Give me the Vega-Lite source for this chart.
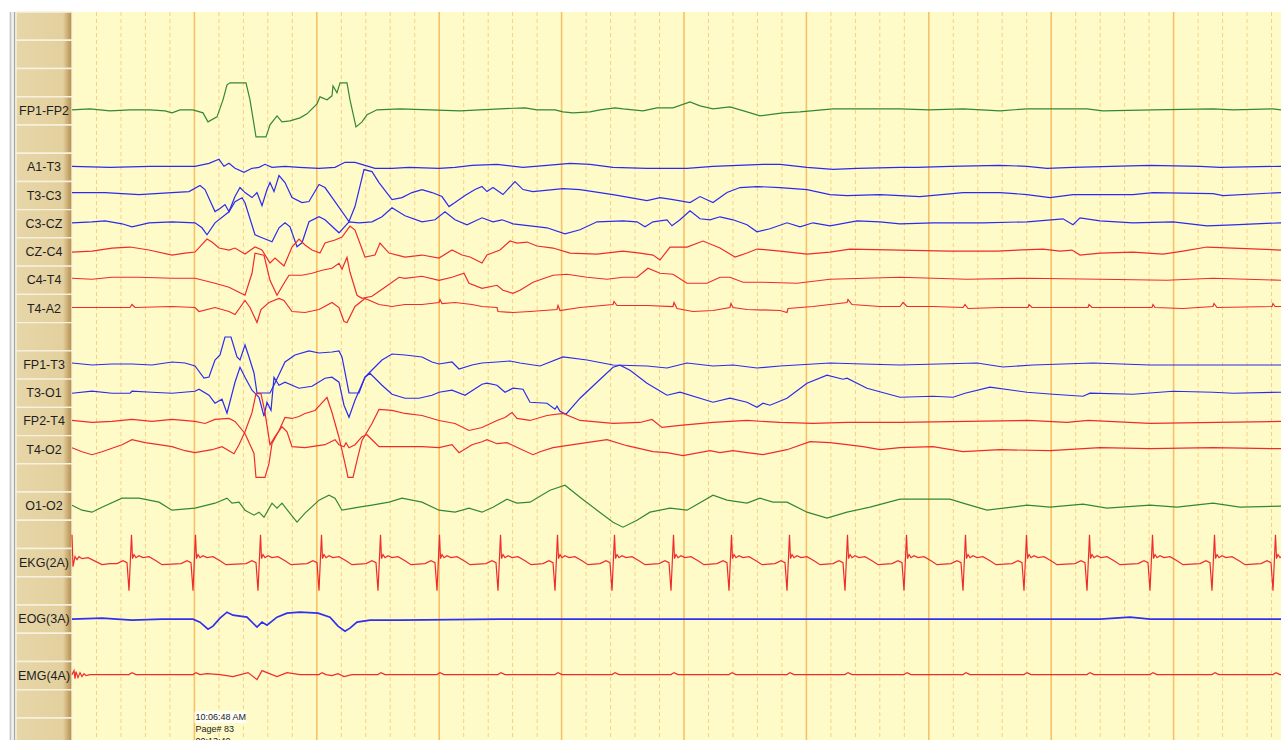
{
"$schema":"https://vega.github.io/schema/vega-lite/v6.json",
"width":1281,"height":740,
"autosize":{"type":"fit","contains":"padding"},
"padding":0,
"background":"#ffffff",
"config":{"view":{"stroke":null}},
"datasets":{
"rows":[{"slot":0,"lab":""},{"slot":1,"lab":""},{"slot":2,"lab":""},{"slot":3,"lab":"FP1-FP2"},{"slot":4,"lab":""},{"slot":5,"lab":"A1-T3"},{"slot":6,"lab":"T3-C3"},{"slot":7,"lab":"C3-CZ"},{"slot":8,"lab":"CZ-C4"},{"slot":9,"lab":"C4-T4"},{"slot":10,"lab":"T4-A2"},{"slot":11,"lab":""},{"slot":12,"lab":"FP1-T3"},{"slot":13,"lab":"T3-O1"},{"slot":14,"lab":"FP2-T4"},{"slot":15,"lab":"T4-O2"},{"slot":16,"lab":""},{"slot":17,"lab":"O1-O2"},{"slot":18,"lab":""},{"slot":19,"lab":"EKG(2A)"},{"slot":20,"lab":""},{"slot":21,"lab":"EOG(3A)"},{"slot":22,"lab":""},{"slot":23,"lab":"EMG(4A)"},{"slot":24,"lab":""},{"slot":25,"lab":""}],
"grid":[{"t":24.5,"k":"m"},{"t":49.0,"k":"m"},{"t":73.4,"k":"m"},{"t":97.9,"k":"m"},{"t":146.9,"k":"m"},{"t":171.4,"k":"m"},{"t":195.8,"k":"m"},{"t":220.3,"k":"m"},{"t":269.3,"k":"m"},{"t":293.8,"k":"m"},{"t":318.2,"k":"m"},{"t":342.7,"k":"m"},{"t":391.7,"k":"m"},{"t":416.2,"k":"m"},{"t":440.6,"k":"m"},{"t":465.1,"k":"m"},{"t":514.1,"k":"m"},{"t":538.6,"k":"m"},{"t":563.0,"k":"m"},{"t":587.5,"k":"m"},{"t":636.5,"k":"m"},{"t":661.0,"k":"m"},{"t":685.4,"k":"m"},{"t":709.9,"k":"m"},{"t":758.9,"k":"m"},{"t":783.4,"k":"m"},{"t":807.8,"k":"m"},{"t":832.3,"k":"m"},{"t":881.3,"k":"m"},{"t":905.8,"k":"m"},{"t":930.2,"k":"m"},{"t":954.7,"k":"m"},{"t":1003.7,"k":"m"},{"t":1028.2,"k":"m"},{"t":1052.6,"k":"m"},{"t":1077.1,"k":"m"},{"t":1126.1,"k":"m"},{"t":1150.6,"k":"m"},{"t":1175.0,"k":"m"},{"t":1199.5,"k":"m"},
{"t":122.4,"k":"M"},{"t":244.8,"k":"M"},{"t":367.2,"k":"M"},{"t":489.6,"k":"M"},{"t":612.0,"k":"M"},{"t":734.4,"k":"M"},{"t":856.8,"k":"M"},{"t":979.2,"k":"M"},{"t":1101.6,"k":"M"}],
"pts":[
{"c":"FP1-FP2","n":0,"v":1},{"c":"FP1-FP2","n":18,"v":2},{"c":"FP1-FP2","n":38,"v":0},{"c":"FP1-FP2","n":58,"v":1},{"c":"FP1-FP2","n":78,"v":1},{"c":"FP1-FP2","n":93,"v":0},{"c":"FP1-FP2","n":100,"v":-2},{"c":"FP1-FP2","n":108,"v":1},{"c":"FP1-FP2","n":121,"v":1},{"c":"FP1-FP2","n":131,"v":-2},{"c":"FP1-FP2","n":136,"v":-11},{"c":"FP1-FP2","n":145,"v":-6},{"c":"FP1-FP2","n":151,"v":11},{"c":"FP1-FP2","n":155,"v":26},{"c":"FP1-FP2","n":158,"v":28},{"c":"FP1-FP2","n":174,"v":28},{"c":"FP1-FP2","n":178,"v":11},{"c":"FP1-FP2","n":184,"v":-26},{"c":"FP1-FP2","n":194,"v":-26},{"c":"FP1-FP2","n":198,"v":-14},{"c":"FP1-FP2","n":205,"v":-5},{"c":"FP1-FP2","n":210,"v":-11},{"c":"FP1-FP2","n":218,"v":-10},{"c":"FP1-FP2","n":228,"v":-7},{"c":"FP1-FP2","n":235,"v":-3},{"c":"FP1-FP2","n":245,"v":7},{"c":"FP1-FP2","n":248,"v":14},{"c":"FP1-FP2","n":255,"v":11},{"c":"FP1-FP2","n":260,"v":15},{"c":"FP1-FP2","n":261,"v":25},{"c":"FP1-FP2","n":265,"v":18},{"c":"FP1-FP2","n":268,"v":28},{"c":"FP1-FP2","n":275,"v":28},{"c":"FP1-FP2","n":278,"v":11},{"c":"FP1-FP2","n":284,"v":-16},{"c":"FP1-FP2","n":290,"v":-11},{"c":"FP1-FP2","n":295,"v":-4},{"c":"FP1-FP2","n":305,"v":1},{"c":"FP1-FP2","n":328,"v":2},{"c":"FP1-FP2","n":358,"v":1},{"c":"FP1-FP2","n":388,"v":0},{"c":"FP1-FP2","n":428,"v":2},{"c":"FP1-FP2","n":453,"v":3},{"c":"FP1-FP2","n":465,"v":1},{"c":"FP1-FP2","n":483,"v":1},{"c":"FP1-FP2","n":491,"v":-1},{"c":"FP1-FP2","n":501,"v":-2},{"c":"FP1-FP2","n":518,"v":-1},{"c":"FP1-FP2","n":528,"v":1},{"c":"FP1-FP2","n":543,"v":3},{"c":"FP1-FP2","n":551,"v":2},{"c":"FP1-FP2","n":571,"v":0},{"c":"FP1-FP2","n":585,"v":3},{"c":"FP1-FP2","n":601,"v":3},{"c":"FP1-FP2","n":618,"v":9},{"c":"FP1-FP2","n":628,"v":5},{"c":"FP1-FP2","n":641,"v":2},{"c":"FP1-FP2","n":658,"v":4},{"c":"FP1-FP2","n":675,"v":-1},{"c":"FP1-FP2","n":688,"v":-5},{"c":"FP1-FP2","n":711,"v":-2},{"c":"FP1-FP2","n":728,"v":-1},{"c":"FP1-FP2","n":761,"v":2},{"c":"FP1-FP2","n":795,"v":2},{"c":"FP1-FP2","n":828,"v":2},{"c":"FP1-FP2","n":857,"v":1},{"c":"FP1-FP2","n":891,"v":2},{"c":"FP1-FP2","n":928,"v":0},{"c":"FP1-FP2","n":955,"v":2},{"c":"FP1-FP2","n":1015,"v":2},{"c":"FP1-FP2","n":1031,"v":0},{"c":"FP1-FP2","n":1081,"v":1},{"c":"FP1-FP2","n":1141,"v":2},{"c":"FP1-FP2","n":1161,"v":1},{"c":"FP1-FP2","n":1201,"v":2},{"c":"FP1-FP2","n":1209,"v":1},
{"c":"A1-T3","n":0,"v":1},{"c":"A1-T3","n":38,"v":0},{"c":"A1-T3","n":78,"v":1},{"c":"A1-T3","n":123,"v":1},{"c":"A1-T3","n":137,"v":4},{"c":"A1-T3","n":147,"v":8},{"c":"A1-T3","n":152,"v":1},{"c":"A1-T3","n":157,"v":4},{"c":"A1-T3","n":163,"v":-1},{"c":"A1-T3","n":172,"v":-5},{"c":"A1-T3","n":180,"v":-1},{"c":"A1-T3","n":187,"v":0},{"c":"A1-T3","n":193,"v":3},{"c":"A1-T3","n":200,"v":0},{"c":"A1-T3","n":213,"v":1},{"c":"A1-T3","n":227,"v":0},{"c":"A1-T3","n":247,"v":-1},{"c":"A1-T3","n":263,"v":0},{"c":"A1-T3","n":273,"v":5},{"c":"A1-T3","n":283,"v":5},{"c":"A1-T3","n":293,"v":2},{"c":"A1-T3","n":303,"v":-1},{"c":"A1-T3","n":320,"v":-1},{"c":"A1-T3","n":337,"v":0},{"c":"A1-T3","n":367,"v":-1},{"c":"A1-T3","n":383,"v":0},{"c":"A1-T3","n":400,"v":2},{"c":"A1-T3","n":425,"v":3},{"c":"A1-T3","n":451,"v":0},{"c":"A1-T3","n":475,"v":2},{"c":"A1-T3","n":498,"v":4},{"c":"A1-T3","n":518,"v":3},{"c":"A1-T3","n":541,"v":0},{"c":"A1-T3","n":575,"v":-1},{"c":"A1-T3","n":615,"v":-1},{"c":"A1-T3","n":641,"v":1},{"c":"A1-T3","n":691,"v":3},{"c":"A1-T3","n":708,"v":3},{"c":"A1-T3","n":735,"v":0},{"c":"A1-T3","n":761,"v":-2},{"c":"A1-T3","n":785,"v":-1},{"c":"A1-T3","n":828,"v":0},{"c":"A1-T3","n":845,"v":0},{"c":"A1-T3","n":878,"v":1},{"c":"A1-T3","n":928,"v":2},{"c":"A1-T3","n":955,"v":1},{"c":"A1-T3","n":975,"v":-1},{"c":"A1-T3","n":1001,"v":0},{"c":"A1-T3","n":1078,"v":2},{"c":"A1-T3","n":1128,"v":1},{"c":"A1-T3","n":1148,"v":0},{"c":"A1-T3","n":1209,"v":1},
{"c":"T3-C3","n":0,"v":3},{"c":"T3-C3","n":33,"v":3},{"c":"T3-C3","n":50,"v":2},{"c":"T3-C3","n":67,"v":1},{"c":"T3-C3","n":100,"v":3},{"c":"T3-C3","n":117,"v":4},{"c":"T3-C3","n":128,"v":10},{"c":"T3-C3","n":133,"v":6},{"c":"T3-C3","n":143,"v":-16},{"c":"T3-C3","n":148,"v":-13},{"c":"T3-C3","n":153,"v":-9},{"c":"T3-C3","n":157,"v":-16},{"c":"T3-C3","n":163,"v":-1},{"c":"T3-C3","n":168,"v":8},{"c":"T3-C3","n":173,"v":3},{"c":"T3-C3","n":180,"v":-2},{"c":"T3-C3","n":185,"v":3},{"c":"T3-C3","n":190,"v":-10},{"c":"T3-C3","n":195,"v":6},{"c":"T3-C3","n":198,"v":13},{"c":"T3-C3","n":202,"v":4},{"c":"T3-C3","n":207,"v":20},{"c":"T3-C3","n":213,"v":13},{"c":"T3-C3","n":220,"v":-2},{"c":"T3-C3","n":230,"v":-7},{"c":"T3-C3","n":237,"v":-6},{"c":"T3-C3","n":247,"v":11},{"c":"T3-C3","n":253,"v":8},{"c":"T3-C3","n":263,"v":-6},{"c":"T3-C3","n":277,"v":-26},{"c":"T3-C3","n":283,"v":-11},{"c":"T3-C3","n":292,"v":26},{"c":"T3-C3","n":300,"v":24},{"c":"T3-C3","n":307,"v":13},{"c":"T3-C3","n":320,"v":-4},{"c":"T3-C3","n":330,"v":-2},{"c":"T3-C3","n":340,"v":3},{"c":"T3-C3","n":350,"v":6},{"c":"T3-C3","n":360,"v":3},{"c":"T3-C3","n":370,"v":-1},{"c":"T3-C3","n":377,"v":-11},{"c":"T3-C3","n":383,"v":-7},{"c":"T3-C3","n":393,"v":0},{"c":"T3-C3","n":403,"v":6},{"c":"T3-C3","n":410,"v":9},{"c":"T3-C3","n":415,"v":4},{"c":"T3-C3","n":421,"v":8},{"c":"T3-C3","n":431,"v":1},{"c":"T3-C3","n":443,"v":14},{"c":"T3-C3","n":451,"v":6},{"c":"T3-C3","n":461,"v":4},{"c":"T3-C3","n":491,"v":7},{"c":"T3-C3","n":508,"v":6},{"c":"T3-C3","n":541,"v":1},{"c":"T3-C3","n":558,"v":-2},{"c":"T3-C3","n":575,"v":-5},{"c":"T3-C3","n":588,"v":-2},{"c":"T3-C3","n":601,"v":-4},{"c":"T3-C3","n":618,"v":-7},{"c":"T3-C3","n":628,"v":-1},{"c":"T3-C3","n":641,"v":-7},{"c":"T3-C3","n":655,"v":3},{"c":"T3-C3","n":668,"v":8},{"c":"T3-C3","n":685,"v":9},{"c":"T3-C3","n":708,"v":8},{"c":"T3-C3","n":735,"v":6},{"c":"T3-C3","n":758,"v":1},{"c":"T3-C3","n":775,"v":0},{"c":"T3-C3","n":808,"v":1},{"c":"T3-C3","n":848,"v":-1},{"c":"T3-C3","n":891,"v":3},{"c":"T3-C3","n":928,"v":3},{"c":"T3-C3","n":955,"v":1},{"c":"T3-C3","n":978,"v":-2},{"c":"T3-C3","n":1001,"v":1},{"c":"T3-C3","n":1061,"v":1},{"c":"T3-C3","n":1081,"v":3},{"c":"T3-C3","n":1141,"v":2},{"c":"T3-C3","n":1151,"v":0},{"c":"T3-C3","n":1209,"v":3},
{"c":"C3-CZ","n":0,"v":1},{"c":"C3-CZ","n":20,"v":2},{"c":"C3-CZ","n":33,"v":3},{"c":"C3-CZ","n":50,"v":0},{"c":"C3-CZ","n":60,"v":-3},{"c":"C3-CZ","n":77,"v":1},{"c":"C3-CZ","n":100,"v":2},{"c":"C3-CZ","n":123,"v":1},{"c":"C3-CZ","n":130,"v":-4},{"c":"C3-CZ","n":135,"v":-11},{"c":"C3-CZ","n":143,"v":1},{"c":"C3-CZ","n":157,"v":12},{"c":"C3-CZ","n":163,"v":22},{"c":"C3-CZ","n":170,"v":26},{"c":"C3-CZ","n":173,"v":21},{"c":"C3-CZ","n":183,"v":-11},{"c":"C3-CZ","n":190,"v":-14},{"c":"C3-CZ","n":200,"v":-18},{"c":"C3-CZ","n":207,"v":-4},{"c":"C3-CZ","n":213,"v":1},{"c":"C3-CZ","n":218,"v":-3},{"c":"C3-CZ","n":225,"v":-23},{"c":"C3-CZ","n":230,"v":-19},{"c":"C3-CZ","n":237,"v":2},{"c":"C3-CZ","n":247,"v":7},{"c":"C3-CZ","n":253,"v":4},{"c":"C3-CZ","n":267,"v":-9},{"c":"C3-CZ","n":277,"v":2},{"c":"C3-CZ","n":287,"v":1},{"c":"C3-CZ","n":300,"v":2},{"c":"C3-CZ","n":310,"v":7},{"c":"C3-CZ","n":320,"v":16},{"c":"C3-CZ","n":333,"v":8},{"c":"C3-CZ","n":350,"v":2},{"c":"C3-CZ","n":363,"v":4},{"c":"C3-CZ","n":373,"v":12},{"c":"C3-CZ","n":383,"v":4},{"c":"C3-CZ","n":395,"v":-1},{"c":"C3-CZ","n":410,"v":6},{"c":"C3-CZ","n":421,"v":2},{"c":"C3-CZ","n":430,"v":4},{"c":"C3-CZ","n":441,"v":0},{"c":"C3-CZ","n":458,"v":-2},{"c":"C3-CZ","n":475,"v":-4},{"c":"C3-CZ","n":493,"v":-10},{"c":"C3-CZ","n":508,"v":-6},{"c":"C3-CZ","n":525,"v":2},{"c":"C3-CZ","n":551,"v":3},{"c":"C3-CZ","n":565,"v":2},{"c":"C3-CZ","n":573,"v":-3},{"c":"C3-CZ","n":581,"v":2},{"c":"C3-CZ","n":595,"v":4},{"c":"C3-CZ","n":600,"v":-2},{"c":"C3-CZ","n":608,"v":4},{"c":"C3-CZ","n":618,"v":13},{"c":"C3-CZ","n":628,"v":5},{"c":"C3-CZ","n":638,"v":4},{"c":"C3-CZ","n":648,"v":7},{"c":"C3-CZ","n":661,"v":4},{"c":"C3-CZ","n":675,"v":-1},{"c":"C3-CZ","n":685,"v":-8},{"c":"C3-CZ","n":698,"v":-5},{"c":"C3-CZ","n":715,"v":1},{"c":"C3-CZ","n":728,"v":-3},{"c":"C3-CZ","n":741,"v":1},{"c":"C3-CZ","n":758,"v":-2},{"c":"C3-CZ","n":785,"v":3},{"c":"C3-CZ","n":808,"v":2},{"c":"C3-CZ","n":828,"v":0},{"c":"C3-CZ","n":861,"v":1},{"c":"C3-CZ","n":911,"v":1},{"c":"C3-CZ","n":955,"v":2},{"c":"C3-CZ","n":991,"v":5},{"c":"C3-CZ","n":1001,"v":-1},{"c":"C3-CZ","n":1008,"v":6},{"c":"C3-CZ","n":1028,"v":3},{"c":"C3-CZ","n":1061,"v":1},{"c":"C3-CZ","n":1101,"v":2},{"c":"C3-CZ","n":1135,"v":-2},{"c":"C3-CZ","n":1161,"v":-1},{"c":"C3-CZ","n":1209,"v":1},
{"c":"CZ-C4","n":0,"v":0},{"c":"CZ-C4","n":20,"v":1},{"c":"CZ-C4","n":40,"v":4},{"c":"CZ-C4","n":58,"v":5},{"c":"CZ-C4","n":77,"v":2},{"c":"CZ-C4","n":100,"v":-3},{"c":"CZ-C4","n":113,"v":-1},{"c":"CZ-C4","n":123,"v":0},{"c":"CZ-C4","n":135,"v":13},{"c":"CZ-C4","n":140,"v":10},{"c":"CZ-C4","n":147,"v":4},{"c":"CZ-C4","n":157,"v":2},{"c":"CZ-C4","n":163,"v":4},{"c":"CZ-C4","n":173,"v":-2},{"c":"CZ-C4","n":183,"v":5},{"c":"CZ-C4","n":190,"v":2},{"c":"CZ-C4","n":198,"v":-11},{"c":"CZ-C4","n":203,"v":-6},{"c":"CZ-C4","n":212,"v":-14},{"c":"CZ-C4","n":220,"v":5},{"c":"CZ-C4","n":227,"v":13},{"c":"CZ-C4","n":233,"v":7},{"c":"CZ-C4","n":240,"v":2},{"c":"CZ-C4","n":248,"v":-1},{"c":"CZ-C4","n":253,"v":9},{"c":"CZ-C4","n":263,"v":12},{"c":"CZ-C4","n":270,"v":15},{"c":"CZ-C4","n":278,"v":26},{"c":"CZ-C4","n":283,"v":22},{"c":"CZ-C4","n":293,"v":-5},{"c":"CZ-C4","n":303,"v":-3},{"c":"CZ-C4","n":308,"v":9},{"c":"CZ-C4","n":317,"v":-1},{"c":"CZ-C4","n":333,"v":-5},{"c":"CZ-C4","n":350,"v":-3},{"c":"CZ-C4","n":367,"v":-6},{"c":"CZ-C4","n":380,"v":2},{"c":"CZ-C4","n":390,"v":-3},{"c":"CZ-C4","n":398,"v":-5},{"c":"CZ-C4","n":410,"v":-11},{"c":"CZ-C4","n":415,"v":-3},{"c":"CZ-C4","n":428,"v":2},{"c":"CZ-C4","n":438,"v":11},{"c":"CZ-C4","n":445,"v":9},{"c":"CZ-C4","n":455,"v":10},{"c":"CZ-C4","n":465,"v":6},{"c":"CZ-C4","n":481,"v":4},{"c":"CZ-C4","n":498,"v":-1},{"c":"CZ-C4","n":525,"v":-2},{"c":"CZ-C4","n":551,"v":1},{"c":"CZ-C4","n":568,"v":-1},{"c":"CZ-C4","n":581,"v":-3},{"c":"CZ-C4","n":588,"v":-8},{"c":"CZ-C4","n":598,"v":5},{"c":"CZ-C4","n":615,"v":5},{"c":"CZ-C4","n":631,"v":11},{"c":"CZ-C4","n":648,"v":4},{"c":"CZ-C4","n":663,"v":-5},{"c":"CZ-C4","n":675,"v":-1},{"c":"CZ-C4","n":685,"v":3},{"c":"CZ-C4","n":708,"v":1},{"c":"CZ-C4","n":735,"v":-2},{"c":"CZ-C4","n":758,"v":0},{"c":"CZ-C4","n":778,"v":3},{"c":"CZ-C4","n":828,"v":2},{"c":"CZ-C4","n":878,"v":1},{"c":"CZ-C4","n":925,"v":1},{"c":"CZ-C4","n":971,"v":3},{"c":"CZ-C4","n":988,"v":1},{"c":"CZ-C4","n":1000,"v":2},{"c":"CZ-C4","n":1008,"v":-3},{"c":"CZ-C4","n":1028,"v":-1},{"c":"CZ-C4","n":1061,"v":0},{"c":"CZ-C4","n":1091,"v":-2},{"c":"CZ-C4","n":1111,"v":1},{"c":"CZ-C4","n":1135,"v":5},{"c":"CZ-C4","n":1161,"v":4},{"c":"CZ-C4","n":1209,"v":2},
{"c":"C4-T4","n":0,"v":2},{"c":"C4-T4","n":20,"v":1},{"c":"C4-T4","n":40,"v":3},{"c":"C4-T4","n":67,"v":3},{"c":"C4-T4","n":100,"v":2},{"c":"C4-T4","n":123,"v":2},{"c":"C4-T4","n":143,"v":-3},{"c":"C4-T4","n":157,"v":-7},{"c":"C4-T4","n":167,"v":-12},{"c":"C4-T4","n":173,"v":-15},{"c":"C4-T4","n":180,"v":7},{"c":"C4-T4","n":183,"v":27},{"c":"C4-T4","n":192,"v":25},{"c":"C4-T4","n":198,"v":0},{"c":"C4-T4","n":205,"v":-15},{"c":"C4-T4","n":212,"v":-3},{"c":"C4-T4","n":217,"v":5},{"c":"C4-T4","n":230,"v":5},{"c":"C4-T4","n":240,"v":7},{"c":"C4-T4","n":250,"v":10},{"c":"C4-T4","n":260,"v":12},{"c":"C4-T4","n":267,"v":17},{"c":"C4-T4","n":270,"v":11},{"c":"C4-T4","n":275,"v":23},{"c":"C4-T4","n":278,"v":8},{"c":"C4-T4","n":285,"v":-15},{"c":"C4-T4","n":290,"v":-18},{"c":"C4-T4","n":300,"v":-16},{"c":"C4-T4","n":313,"v":-7},{"c":"C4-T4","n":327,"v":3},{"c":"C4-T4","n":333,"v":2},{"c":"C4-T4","n":350,"v":4},{"c":"C4-T4","n":367,"v":0},{"c":"C4-T4","n":380,"v":3},{"c":"C4-T4","n":392,"v":7},{"c":"C4-T4","n":397,"v":-3},{"c":"C4-T4","n":410,"v":-8},{"c":"C4-T4","n":425,"v":-5},{"c":"C4-T4","n":431,"v":-10},{"c":"C4-T4","n":441,"v":-13},{"c":"C4-T4","n":448,"v":-10},{"c":"C4-T4","n":461,"v":-2},{"c":"C4-T4","n":481,"v":5},{"c":"C4-T4","n":495,"v":6},{"c":"C4-T4","n":515,"v":3},{"c":"C4-T4","n":535,"v":1},{"c":"C4-T4","n":551,"v":3},{"c":"C4-T4","n":565,"v":3},{"c":"C4-T4","n":576,"v":12},{"c":"C4-T4","n":588,"v":7},{"c":"C4-T4","n":601,"v":6},{"c":"C4-T4","n":615,"v":-3},{"c":"C4-T4","n":635,"v":-3},{"c":"C4-T4","n":648,"v":3},{"c":"C4-T4","n":658,"v":3},{"c":"C4-T4","n":671,"v":-2},{"c":"C4-T4","n":691,"v":-2},{"c":"C4-T4","n":725,"v":-3},{"c":"C4-T4","n":758,"v":1},{"c":"C4-T4","n":828,"v":3},{"c":"C4-T4","n":895,"v":1},{"c":"C4-T4","n":955,"v":2},{"c":"C4-T4","n":1028,"v":1},{"c":"C4-T4","n":1095,"v":0},{"c":"C4-T4","n":1141,"v":2},{"c":"C4-T4","n":1209,"v":0},
{"c":"T4-A2","n":0,"v":1},{"c":"T4-A2","n":33,"v":1},{"c":"T4-A2","n":58,"v":1},{"c":"T4-A2","n":60,"v":4},{"c":"T4-A2","n":63,"v":1},{"c":"T4-A2","n":100,"v":2},{"c":"T4-A2","n":123,"v":1},{"c":"T4-A2","n":127,"v":-3},{"c":"T4-A2","n":143,"v":1},{"c":"T4-A2","n":157,"v":-3},{"c":"T4-A2","n":163,"v":-6},{"c":"T4-A2","n":173,"v":8},{"c":"T4-A2","n":178,"v":1},{"c":"T4-A2","n":185,"v":-14},{"c":"T4-A2","n":189,"v":-1},{"c":"T4-A2","n":197,"v":6},{"c":"T4-A2","n":207,"v":10},{"c":"T4-A2","n":212,"v":8},{"c":"T4-A2","n":220,"v":-3},{"c":"T4-A2","n":233,"v":-4},{"c":"T4-A2","n":247,"v":-1},{"c":"T4-A2","n":260,"v":6},{"c":"T4-A2","n":267,"v":1},{"c":"T4-A2","n":272,"v":-13},{"c":"T4-A2","n":275,"v":-14},{"c":"T4-A2","n":283,"v":2},{"c":"T4-A2","n":293,"v":10},{"c":"T4-A2","n":307,"v":4},{"c":"T4-A2","n":320,"v":2},{"c":"T4-A2","n":333,"v":4},{"c":"T4-A2","n":350,"v":4},{"c":"T4-A2","n":367,"v":6},{"c":"T4-A2","n":368,"v":9},{"c":"T4-A2","n":370,"v":5},{"c":"T4-A2","n":383,"v":6},{"c":"T4-A2","n":400,"v":4},{"c":"T4-A2","n":410,"v":2},{"c":"T4-A2","n":425,"v":1},{"c":"T4-A2","n":426,"v":-3},{"c":"T4-A2","n":441,"v":-4},{"c":"T4-A2","n":458,"v":-3},{"c":"T4-A2","n":485,"v":-1},{"c":"T4-A2","n":486,"v":3},{"c":"T4-A2","n":488,"v":-2},{"c":"T4-A2","n":508,"v":1},{"c":"T4-A2","n":541,"v":4},{"c":"T4-A2","n":542,"v":7},{"c":"T4-A2","n":545,"v":3},{"c":"T4-A2","n":575,"v":3},{"c":"T4-A2","n":601,"v":2},{"c":"T4-A2","n":602,"v":6},{"c":"T4-A2","n":605,"v":0},{"c":"T4-A2","n":621,"v":-3},{"c":"T4-A2","n":641,"v":-2},{"c":"T4-A2","n":658,"v":1},{"c":"T4-A2","n":659,"v":5},{"c":"T4-A2","n":661,"v":1},{"c":"T4-A2","n":675,"v":-1},{"c":"T4-A2","n":708,"v":-2},{"c":"T4-A2","n":715,"v":-4},{"c":"T4-A2","n":716,"v":0},{"c":"T4-A2","n":741,"v":2},{"c":"T4-A2","n":775,"v":6},{"c":"T4-A2","n":776,"v":9},{"c":"T4-A2","n":780,"v":4},{"c":"T4-A2","n":808,"v":2},{"c":"T4-A2","n":828,"v":2},{"c":"T4-A2","n":831,"v":6},{"c":"T4-A2","n":835,"v":2},{"c":"T4-A2","n":861,"v":2},{"c":"T4-A2","n":891,"v":1},{"c":"T4-A2","n":893,"v":4},{"c":"T4-A2","n":896,"v":0},{"c":"T4-A2","n":928,"v":1},{"c":"T4-A2","n":956,"v":1},{"c":"T4-A2","n":957,"v":4},{"c":"T4-A2","n":960,"v":1},{"c":"T4-A2","n":1016,"v":1},{"c":"T4-A2","n":1017,"v":4},{"c":"T4-A2","n":1020,"v":1},{"c":"T4-A2","n":1080,"v":1},{"c":"T4-A2","n":1081,"v":4},{"c":"T4-A2","n":1083,"v":1},{"c":"T4-A2","n":1111,"v":0},{"c":"T4-A2","n":1141,"v":2},{"c":"T4-A2","n":1142,"v":5},{"c":"T4-A2","n":1145,"v":1},{"c":"T4-A2","n":1200,"v":2},{"c":"T4-A2","n":1201,"v":5},{"c":"T4-A2","n":1203,"v":2},{"c":"T4-A2","n":1209,"v":2},
{"c":"FP1-T3","n":0,"v":2},{"c":"FP1-T3","n":20,"v":0},{"c":"FP1-T3","n":40,"v":1},{"c":"FP1-T3","n":60,"v":1},{"c":"FP1-T3","n":80,"v":0},{"c":"FP1-T3","n":100,"v":3},{"c":"FP1-T3","n":113,"v":2},{"c":"FP1-T3","n":123,"v":-1},{"c":"FP1-T3","n":132,"v":-13},{"c":"FP1-T3","n":137,"v":-12},{"c":"FP1-T3","n":143,"v":5},{"c":"FP1-T3","n":148,"v":10},{"c":"FP1-T3","n":153,"v":28},{"c":"FP1-T3","n":159,"v":28},{"c":"FP1-T3","n":165,"v":8},{"c":"FP1-T3","n":168,"v":5},{"c":"FP1-T3","n":173,"v":20},{"c":"FP1-T3","n":177,"v":8},{"c":"FP1-T3","n":182,"v":-8},{"c":"FP1-T3","n":185,"v":-28},{"c":"FP1-T3","n":198,"v":-28},{"c":"FP1-T3","n":203,"v":-18},{"c":"FP1-T3","n":213,"v":3},{"c":"FP1-T3","n":223,"v":10},{"c":"FP1-T3","n":237,"v":14},{"c":"FP1-T3","n":247,"v":12},{"c":"FP1-T3","n":260,"v":13},{"c":"FP1-T3","n":267,"v":14},{"c":"FP1-T3","n":270,"v":8},{"c":"FP1-T3","n":277,"v":-28},{"c":"FP1-T3","n":287,"v":-28},{"c":"FP1-T3","n":293,"v":-12},{"c":"FP1-T3","n":300,"v":-5},{"c":"FP1-T3","n":310,"v":5},{"c":"FP1-T3","n":320,"v":11},{"c":"FP1-T3","n":333,"v":10},{"c":"FP1-T3","n":350,"v":8},{"c":"FP1-T3","n":360,"v":3},{"c":"FP1-T3","n":367,"v":1},{"c":"FP1-T3","n":380,"v":3},{"c":"FP1-T3","n":387,"v":-4},{"c":"FP1-T3","n":400,"v":0},{"c":"FP1-T3","n":410,"v":2},{"c":"FP1-T3","n":425,"v":3},{"c":"FP1-T3","n":438,"v":4},{"c":"FP1-T3","n":448,"v":2},{"c":"FP1-T3","n":468,"v":-1},{"c":"FP1-T3","n":491,"v":8},{"c":"FP1-T3","n":515,"v":5},{"c":"FP1-T3","n":541,"v":0},{"c":"FP1-T3","n":575,"v":-1},{"c":"FP1-T3","n":595,"v":-3},{"c":"FP1-T3","n":615,"v":2},{"c":"FP1-T3","n":641,"v":-1},{"c":"FP1-T3","n":661,"v":0},{"c":"FP1-T3","n":685,"v":-3},{"c":"FP1-T3","n":708,"v":-1},{"c":"FP1-T3","n":758,"v":2},{"c":"FP1-T3","n":791,"v":1},{"c":"FP1-T3","n":828,"v":0},{"c":"FP1-T3","n":905,"v":2},{"c":"FP1-T3","n":931,"v":-2},{"c":"FP1-T3","n":961,"v":0},{"c":"FP1-T3","n":1021,"v":2},{"c":"FP1-T3","n":1078,"v":0},{"c":"FP1-T3","n":1141,"v":0},{"c":"FP1-T3","n":1209,"v":0},
{"c":"T3-O1","n":0,"v":0},{"c":"T3-O1","n":20,"v":2},{"c":"T3-O1","n":40,"v":0},{"c":"T3-O1","n":58,"v":0},{"c":"T3-O1","n":60,"v":2},{"c":"T3-O1","n":80,"v":1},{"c":"T3-O1","n":100,"v":0},{"c":"T3-O1","n":123,"v":2},{"c":"T3-O1","n":127,"v":4},{"c":"T3-O1","n":137,"v":-2},{"c":"T3-O1","n":143,"v":-10},{"c":"T3-O1","n":150,"v":-6},{"c":"T3-O1","n":155,"v":-20},{"c":"T3-O1","n":163,"v":11},{"c":"T3-O1","n":168,"v":26},{"c":"T3-O1","n":173,"v":16},{"c":"T3-O1","n":180,"v":3},{"c":"T3-O1","n":187,"v":-4},{"c":"T3-O1","n":192,"v":-23},{"c":"T3-O1","n":195,"v":-9},{"c":"T3-O1","n":199,"v":-17},{"c":"T3-O1","n":202,"v":16},{"c":"T3-O1","n":207,"v":8},{"c":"T3-O1","n":213,"v":11},{"c":"T3-O1","n":227,"v":5},{"c":"T3-O1","n":240,"v":7},{"c":"T3-O1","n":253,"v":15},{"c":"T3-O1","n":260,"v":16},{"c":"T3-O1","n":267,"v":11},{"c":"T3-O1","n":272,"v":-12},{"c":"T3-O1","n":277,"v":-24},{"c":"T3-O1","n":283,"v":-7},{"c":"T3-O1","n":293,"v":16},{"c":"T3-O1","n":298,"v":20},{"c":"T3-O1","n":310,"v":8},{"c":"T3-O1","n":320,"v":-1},{"c":"T3-O1","n":333,"v":-5},{"c":"T3-O1","n":347,"v":-5},{"c":"T3-O1","n":360,"v":-2},{"c":"T3-O1","n":367,"v":1},{"c":"T3-O1","n":380,"v":3},{"c":"T3-O1","n":393,"v":-2},{"c":"T3-O1","n":410,"v":9},{"c":"T3-O1","n":415,"v":10},{"c":"T3-O1","n":425,"v":8},{"c":"T3-O1","n":433,"v":1},{"c":"T3-O1","n":441,"v":5},{"c":"T3-O1","n":451,"v":4},{"c":"T3-O1","n":458,"v":-9},{"c":"T3-O1","n":475,"v":-10},{"c":"T3-O1","n":483,"v":-16},{"c":"T3-O1","n":485,"v":-13},{"c":"T3-O1","n":488,"v":-18},{"c":"T3-O1","n":494,"v":-21},{"c":"T3-O1","n":508,"v":-5},{"c":"T3-O1","n":525,"v":11},{"c":"T3-O1","n":541,"v":26},{"c":"T3-O1","n":548,"v":28},{"c":"T3-O1","n":558,"v":23},{"c":"T3-O1","n":575,"v":10},{"c":"T3-O1","n":595,"v":-2},{"c":"T3-O1","n":608,"v":1},{"c":"T3-O1","n":641,"v":-9},{"c":"T3-O1","n":658,"v":-5},{"c":"T3-O1","n":675,"v":-9},{"c":"T3-O1","n":685,"v":-14},{"c":"T3-O1","n":691,"v":-10},{"c":"T3-O1","n":698,"v":-12},{"c":"T3-O1","n":715,"v":-5},{"c":"T3-O1","n":735,"v":10},{"c":"T3-O1","n":755,"v":18},{"c":"T3-O1","n":771,"v":14},{"c":"T3-O1","n":775,"v":15},{"c":"T3-O1","n":795,"v":5},{"c":"T3-O1","n":828,"v":-4},{"c":"T3-O1","n":861,"v":-3},{"c":"T3-O1","n":881,"v":-4},{"c":"T3-O1","n":893,"v":0},{"c":"T3-O1","n":918,"v":6},{"c":"T3-O1","n":955,"v":1},{"c":"T3-O1","n":981,"v":-1},{"c":"T3-O1","n":1011,"v":-3},{"c":"T3-O1","n":1018,"v":0},{"c":"T3-O1","n":1061,"v":-1},{"c":"T3-O1","n":1101,"v":2},{"c":"T3-O1","n":1141,"v":1},{"c":"T3-O1","n":1161,"v":0},{"c":"T3-O1","n":1209,"v":1},
{"c":"FP2-T4","n":0,"v":1},{"c":"FP2-T4","n":20,"v":-1},{"c":"FP2-T4","n":40,"v":0},{"c":"FP2-T4","n":60,"v":2},{"c":"FP2-T4","n":80,"v":0},{"c":"FP2-T4","n":100,"v":2},{"c":"FP2-T4","n":123,"v":0},{"c":"FP2-T4","n":133,"v":-2},{"c":"FP2-T4","n":143,"v":2},{"c":"FP2-T4","n":157,"v":3},{"c":"FP2-T4","n":163,"v":0},{"c":"FP2-T4","n":173,"v":-12},{"c":"FP2-T4","n":182,"v":-32},{"c":"FP2-T4","n":184,"v":-56},{"c":"FP2-T4","n":193,"v":-56},{"c":"FP2-T4","n":197,"v":-42},{"c":"FP2-T4","n":200,"v":-22},{"c":"FP2-T4","n":207,"v":-9},{"c":"FP2-T4","n":213,"v":4},{"c":"FP2-T4","n":220,"v":3},{"c":"FP2-T4","n":227,"v":5},{"c":"FP2-T4","n":233,"v":8},{"c":"FP2-T4","n":243,"v":11},{"c":"FP2-T4","n":255,"v":24},{"c":"FP2-T4","n":260,"v":9},{"c":"FP2-T4","n":267,"v":-16},{"c":"FP2-T4","n":273,"v":-42},{"c":"FP2-T4","n":276,"v":-56},{"c":"FP2-T4","n":281,"v":-56},{"c":"FP2-T4","n":286,"v":-35},{"c":"FP2-T4","n":290,"v":-19},{"c":"FP2-T4","n":300,"v":-2},{"c":"FP2-T4","n":307,"v":12},{"c":"FP2-T4","n":320,"v":11},{"c":"FP2-T4","n":333,"v":8},{"c":"FP2-T4","n":350,"v":6},{"c":"FP2-T4","n":367,"v":1},{"c":"FP2-T4","n":383,"v":-2},{"c":"FP2-T4","n":397,"v":-9},{"c":"FP2-T4","n":410,"v":-6},{"c":"FP2-T4","n":425,"v":1},{"c":"FP2-T4","n":433,"v":4},{"c":"FP2-T4","n":440,"v":9},{"c":"FP2-T4","n":445,"v":3},{"c":"FP2-T4","n":458,"v":1},{"c":"FP2-T4","n":475,"v":6},{"c":"FP2-T4","n":491,"v":8},{"c":"FP2-T4","n":508,"v":1},{"c":"FP2-T4","n":541,"v":-2},{"c":"FP2-T4","n":568,"v":-1},{"c":"FP2-T4","n":580,"v":2},{"c":"FP2-T4","n":590,"v":-6},{"c":"FP2-T4","n":608,"v":-4},{"c":"FP2-T4","n":641,"v":-1},{"c":"FP2-T4","n":675,"v":1},{"c":"FP2-T4","n":708,"v":-1},{"c":"FP2-T4","n":741,"v":-2},{"c":"FP2-T4","n":775,"v":-1},{"c":"FP2-T4","n":828,"v":-1},{"c":"FP2-T4","n":895,"v":0},{"c":"FP2-T4","n":956,"v":1},{"c":"FP2-T4","n":995,"v":-1},{"c":"FP2-T4","n":1016,"v":1},{"c":"FP2-T4","n":1078,"v":-2},{"c":"FP2-T4","n":1145,"v":-1},{"c":"FP2-T4","n":1209,"v":0},
{"c":"T4-O2","n":0,"v":2},{"c":"T4-O2","n":10,"v":-2},{"c":"T4-O2","n":20,"v":-5},{"c":"T4-O2","n":30,"v":-2},{"c":"T4-O2","n":50,"v":5},{"c":"T4-O2","n":60,"v":10},{"c":"T4-O2","n":73,"v":7},{"c":"T4-O2","n":87,"v":5},{"c":"T4-O2","n":100,"v":3},{"c":"T4-O2","n":113,"v":-1},{"c":"T4-O2","n":123,"v":-3},{"c":"T4-O2","n":140,"v":0},{"c":"T4-O2","n":150,"v":3},{"c":"T4-O2","n":162,"v":-4},{"c":"T4-O2","n":167,"v":5},{"c":"T4-O2","n":173,"v":18},{"c":"T4-O2","n":180,"v":37},{"c":"T4-O2","n":184,"v":56},{"c":"T4-O2","n":189,"v":56},{"c":"T4-O2","n":193,"v":37},{"c":"T4-O2","n":198,"v":5},{"c":"T4-O2","n":203,"v":13},{"c":"T4-O2","n":210,"v":23},{"c":"T4-O2","n":215,"v":18},{"c":"T4-O2","n":220,"v":3},{"c":"T4-O2","n":233,"v":2},{"c":"T4-O2","n":253,"v":5},{"c":"T4-O2","n":263,"v":10},{"c":"T4-O2","n":267,"v":5},{"c":"T4-O2","n":272,"v":3},{"c":"T4-O2","n":274,"v":7},{"c":"T4-O2","n":277,"v":2},{"c":"T4-O2","n":283,"v":5},{"c":"T4-O2","n":290,"v":13},{"c":"T4-O2","n":295,"v":15},{"c":"T4-O2","n":300,"v":10},{"c":"T4-O2","n":307,"v":3},{"c":"T4-O2","n":320,"v":3},{"c":"T4-O2","n":350,"v":3},{"c":"T4-O2","n":367,"v":2},{"c":"T4-O2","n":380,"v":5},{"c":"T4-O2","n":387,"v":-3},{"c":"T4-O2","n":400,"v":5},{"c":"T4-O2","n":410,"v":8},{"c":"T4-O2","n":415,"v":10},{"c":"T4-O2","n":425,"v":6},{"c":"T4-O2","n":435,"v":7},{"c":"T4-O2","n":448,"v":1},{"c":"T4-O2","n":461,"v":-5},{"c":"T4-O2","n":468,"v":-2},{"c":"T4-O2","n":481,"v":2},{"c":"T4-O2","n":501,"v":5},{"c":"T4-O2","n":535,"v":10},{"c":"T4-O2","n":555,"v":4},{"c":"T4-O2","n":581,"v":-2},{"c":"T4-O2","n":595,"v":-3},{"c":"T4-O2","n":611,"v":-6},{"c":"T4-O2","n":638,"v":-1},{"c":"T4-O2","n":648,"v":-3},{"c":"T4-O2","n":661,"v":-1},{"c":"T4-O2","n":675,"v":-3},{"c":"T4-O2","n":691,"v":-5},{"c":"T4-O2","n":715,"v":0},{"c":"T4-O2","n":738,"v":8},{"c":"T4-O2","n":758,"v":7},{"c":"T4-O2","n":775,"v":5},{"c":"T4-O2","n":791,"v":3},{"c":"T4-O2","n":808,"v":0},{"c":"T4-O2","n":828,"v":2},{"c":"T4-O2","n":861,"v":3},{"c":"T4-O2","n":891,"v":-2},{"c":"T4-O2","n":928,"v":0},{"c":"T4-O2","n":978,"v":-1},{"c":"T4-O2","n":1028,"v":2},{"c":"T4-O2","n":1078,"v":1},{"c":"T4-O2","n":1141,"v":2},{"c":"T4-O2","n":1209,"v":1},
{"c":"O1-O2","n":0,"v":1},{"c":"O1-O2","n":10,"v":-4},{"c":"O1-O2","n":20,"v":-6},{"c":"O1-O2","n":30,"v":-1},{"c":"O1-O2","n":50,"v":8},{"c":"O1-O2","n":67,"v":8},{"c":"O1-O2","n":87,"v":4},{"c":"O1-O2","n":100,"v":-4},{"c":"O1-O2","n":123,"v":-2},{"c":"O1-O2","n":143,"v":3},{"c":"O1-O2","n":155,"v":8},{"c":"O1-O2","n":160,"v":3},{"c":"O1-O2","n":167,"v":4},{"c":"O1-O2","n":173,"v":-4},{"c":"O1-O2","n":182,"v":-9},{"c":"O1-O2","n":187,"v":-6},{"c":"O1-O2","n":192,"v":-11},{"c":"O1-O2","n":200,"v":3},{"c":"O1-O2","n":205,"v":-2},{"c":"O1-O2","n":210,"v":3},{"c":"O1-O2","n":217,"v":-6},{"c":"O1-O2","n":225,"v":-16},{"c":"O1-O2","n":233,"v":-7},{"c":"O1-O2","n":247,"v":6},{"c":"O1-O2","n":257,"v":11},{"c":"O1-O2","n":263,"v":8},{"c":"O1-O2","n":270,"v":-4},{"c":"O1-O2","n":287,"v":-1},{"c":"O1-O2","n":300,"v":1},{"c":"O1-O2","n":317,"v":4},{"c":"O1-O2","n":330,"v":8},{"c":"O1-O2","n":350,"v":4},{"c":"O1-O2","n":367,"v":-4},{"c":"O1-O2","n":383,"v":-6},{"c":"O1-O2","n":397,"v":-2},{"c":"O1-O2","n":410,"v":-6},{"c":"O1-O2","n":421,"v":-1},{"c":"O1-O2","n":435,"v":7},{"c":"O1-O2","n":445,"v":3},{"c":"O1-O2","n":458,"v":4},{"c":"O1-O2","n":478,"v":16},{"c":"O1-O2","n":493,"v":21},{"c":"O1-O2","n":508,"v":9},{"c":"O1-O2","n":525,"v":-4},{"c":"O1-O2","n":541,"v":-16},{"c":"O1-O2","n":551,"v":-21},{"c":"O1-O2","n":565,"v":-14},{"c":"O1-O2","n":578,"v":-6},{"c":"O1-O2","n":598,"v":-2},{"c":"O1-O2","n":615,"v":-4},{"c":"O1-O2","n":641,"v":11},{"c":"O1-O2","n":655,"v":6},{"c":"O1-O2","n":675,"v":3},{"c":"O1-O2","n":688,"v":8},{"c":"O1-O2","n":701,"v":4},{"c":"O1-O2","n":715,"v":4},{"c":"O1-O2","n":735,"v":-6},{"c":"O1-O2","n":755,"v":-12},{"c":"O1-O2","n":775,"v":-6},{"c":"O1-O2","n":798,"v":-1},{"c":"O1-O2","n":828,"v":7},{"c":"O1-O2","n":878,"v":7},{"c":"O1-O2","n":891,"v":3},{"c":"O1-O2","n":915,"v":-4},{"c":"O1-O2","n":955,"v":1},{"c":"O1-O2","n":978,"v":-1},{"c":"O1-O2","n":1011,"v":2},{"c":"O1-O2","n":1035,"v":-2},{"c":"O1-O2","n":1078,"v":1},{"c":"O1-O2","n":1105,"v":-1},{"c":"O1-O2","n":1141,"v":3},{"c":"O1-O2","n":1168,"v":-1},{"c":"O1-O2","n":1209,"v":0},
{"c":"EKG(2A)","n":0,"v":28},{"c":"EKG(2A)","n":1,"v":-4},{"c":"EKG(2A)","n":3,"v":6},{"c":"EKG(2A)","n":5,"v":3},{"c":"EKG(2A)","n":7,"v":6},{"c":"EKG(2A)","n":10,"v":4},{"c":"EKG(2A)","n":16,"v":5},{"c":"EKG(2A)","n":22,"v":2},{"c":"EKG(2A)","n":30,"v":-2},{"c":"EKG(2A)","n":38,"v":-1},
{"c":"EKG(2A)","n":45,"v":-1},{"c":"EKG(2A)","n":51,"v":2},{"c":"EKG(2A)","n":55,"v":0},{"c":"EKG(2A)","n":57,"v":-28},{"c":"EKG(2A)","n":59.5,"v":28},{"c":"EKG(2A)","n":60.5,"v":4},{"c":"EKG(2A)","n":62,"v":8},{"c":"EKG(2A)","n":64,"v":5},{"c":"EKG(2A)","n":67,"v":7},{"c":"EKG(2A)","n":71,"v":5},{"c":"EKG(2A)","n":77,"v":6},{"c":"EKG(2A)","n":84,"v":2},{"c":"EKG(2A)","n":90,"v":-2},
{"c":"EKG(2A)","n":109,"v":-1},{"c":"EKG(2A)","n":115,"v":2},{"c":"EKG(2A)","n":119,"v":0},{"c":"EKG(2A)","n":121,"v":-28},{"c":"EKG(2A)","n":123.5,"v":28},{"c":"EKG(2A)","n":124.5,"v":4},{"c":"EKG(2A)","n":126,"v":8},{"c":"EKG(2A)","n":128,"v":5},{"c":"EKG(2A)","n":131,"v":7},{"c":"EKG(2A)","n":135,"v":5},{"c":"EKG(2A)","n":141,"v":6},{"c":"EKG(2A)","n":148,"v":2},{"c":"EKG(2A)","n":154,"v":-2},
{"c":"EKG(2A)","n":174,"v":-1},{"c":"EKG(2A)","n":180,"v":2},{"c":"EKG(2A)","n":184,"v":0},{"c":"EKG(2A)","n":186,"v":-28},{"c":"EKG(2A)","n":188.5,"v":28},{"c":"EKG(2A)","n":189.5,"v":4},{"c":"EKG(2A)","n":191,"v":8},{"c":"EKG(2A)","n":193,"v":5},{"c":"EKG(2A)","n":196,"v":7},{"c":"EKG(2A)","n":200,"v":5},{"c":"EKG(2A)","n":206,"v":6},{"c":"EKG(2A)","n":213,"v":2},{"c":"EKG(2A)","n":219,"v":-2},
{"c":"EKG(2A)","n":235,"v":-1},{"c":"EKG(2A)","n":241,"v":2},{"c":"EKG(2A)","n":245,"v":0},{"c":"EKG(2A)","n":247,"v":-28},{"c":"EKG(2A)","n":249.5,"v":28},{"c":"EKG(2A)","n":250.5,"v":4},{"c":"EKG(2A)","n":252,"v":8},{"c":"EKG(2A)","n":254,"v":5},{"c":"EKG(2A)","n":257,"v":7},{"c":"EKG(2A)","n":261,"v":5},{"c":"EKG(2A)","n":267,"v":6},{"c":"EKG(2A)","n":274,"v":2},{"c":"EKG(2A)","n":280,"v":-2},
{"c":"EKG(2A)","n":294,"v":-1},{"c":"EKG(2A)","n":300,"v":2},{"c":"EKG(2A)","n":304,"v":0},{"c":"EKG(2A)","n":306,"v":-28},{"c":"EKG(2A)","n":308.5,"v":28},{"c":"EKG(2A)","n":309.5,"v":4},{"c":"EKG(2A)","n":311,"v":8},{"c":"EKG(2A)","n":313,"v":5},{"c":"EKG(2A)","n":316,"v":7},{"c":"EKG(2A)","n":320,"v":5},{"c":"EKG(2A)","n":326,"v":6},{"c":"EKG(2A)","n":333,"v":2},{"c":"EKG(2A)","n":339,"v":-2},
{"c":"EKG(2A)","n":353,"v":-1},{"c":"EKG(2A)","n":359,"v":2},{"c":"EKG(2A)","n":363,"v":0},{"c":"EKG(2A)","n":365,"v":-28},{"c":"EKG(2A)","n":367.5,"v":28},{"c":"EKG(2A)","n":368.5,"v":4},{"c":"EKG(2A)","n":370,"v":8},{"c":"EKG(2A)","n":372,"v":5},{"c":"EKG(2A)","n":375,"v":7},{"c":"EKG(2A)","n":379,"v":5},{"c":"EKG(2A)","n":385,"v":6},{"c":"EKG(2A)","n":392,"v":2},{"c":"EKG(2A)","n":398,"v":-2},
{"c":"EKG(2A)","n":414,"v":-1},{"c":"EKG(2A)","n":420,"v":2},{"c":"EKG(2A)","n":424,"v":0},{"c":"EKG(2A)","n":426,"v":-28},{"c":"EKG(2A)","n":428.5,"v":28},{"c":"EKG(2A)","n":429.5,"v":4},{"c":"EKG(2A)","n":431,"v":8},{"c":"EKG(2A)","n":433,"v":5},{"c":"EKG(2A)","n":436,"v":7},{"c":"EKG(2A)","n":440,"v":5},{"c":"EKG(2A)","n":446,"v":6},{"c":"EKG(2A)","n":453,"v":2},{"c":"EKG(2A)","n":459,"v":-2},
{"c":"EKG(2A)","n":471,"v":-1},{"c":"EKG(2A)","n":477,"v":2},{"c":"EKG(2A)","n":481,"v":0},{"c":"EKG(2A)","n":483,"v":-28},{"c":"EKG(2A)","n":485.5,"v":28},{"c":"EKG(2A)","n":486.5,"v":4},{"c":"EKG(2A)","n":488,"v":8},{"c":"EKG(2A)","n":490,"v":5},{"c":"EKG(2A)","n":493,"v":7},{"c":"EKG(2A)","n":497,"v":5},{"c":"EKG(2A)","n":503,"v":6},{"c":"EKG(2A)","n":510,"v":2},{"c":"EKG(2A)","n":516,"v":-2},
{"c":"EKG(2A)","n":528,"v":-1},{"c":"EKG(2A)","n":534,"v":2},{"c":"EKG(2A)","n":538,"v":0},{"c":"EKG(2A)","n":540,"v":-28},{"c":"EKG(2A)","n":542.5,"v":28},{"c":"EKG(2A)","n":543.5,"v":4},{"c":"EKG(2A)","n":545,"v":8},{"c":"EKG(2A)","n":547,"v":5},{"c":"EKG(2A)","n":550,"v":7},{"c":"EKG(2A)","n":554,"v":5},{"c":"EKG(2A)","n":560,"v":6},{"c":"EKG(2A)","n":567,"v":2},{"c":"EKG(2A)","n":573,"v":-2},
{"c":"EKG(2A)","n":587,"v":-1},{"c":"EKG(2A)","n":593,"v":2},{"c":"EKG(2A)","n":597,"v":0},{"c":"EKG(2A)","n":599,"v":-28},{"c":"EKG(2A)","n":601.5,"v":28},{"c":"EKG(2A)","n":602.5,"v":4},{"c":"EKG(2A)","n":604,"v":8},{"c":"EKG(2A)","n":606,"v":5},{"c":"EKG(2A)","n":609,"v":7},{"c":"EKG(2A)","n":613,"v":5},{"c":"EKG(2A)","n":619,"v":6},{"c":"EKG(2A)","n":626,"v":2},{"c":"EKG(2A)","n":632,"v":-2},
{"c":"EKG(2A)","n":645,"v":-1},{"c":"EKG(2A)","n":651,"v":2},{"c":"EKG(2A)","n":655,"v":0},{"c":"EKG(2A)","n":657,"v":-28},{"c":"EKG(2A)","n":659.5,"v":28},{"c":"EKG(2A)","n":660.5,"v":4},{"c":"EKG(2A)","n":662,"v":8},{"c":"EKG(2A)","n":664,"v":5},{"c":"EKG(2A)","n":667,"v":7},{"c":"EKG(2A)","n":671,"v":5},{"c":"EKG(2A)","n":677,"v":6},{"c":"EKG(2A)","n":684,"v":2},{"c":"EKG(2A)","n":690,"v":-2},
{"c":"EKG(2A)","n":703,"v":-1},{"c":"EKG(2A)","n":709,"v":2},{"c":"EKG(2A)","n":713,"v":0},{"c":"EKG(2A)","n":715,"v":-28},{"c":"EKG(2A)","n":717.5,"v":28},{"c":"EKG(2A)","n":718.5,"v":4},{"c":"EKG(2A)","n":720,"v":8},{"c":"EKG(2A)","n":722,"v":5},{"c":"EKG(2A)","n":725,"v":7},{"c":"EKG(2A)","n":729,"v":5},{"c":"EKG(2A)","n":735,"v":6},{"c":"EKG(2A)","n":742,"v":2},{"c":"EKG(2A)","n":748,"v":-2},
{"c":"EKG(2A)","n":761,"v":-1},{"c":"EKG(2A)","n":767,"v":2},{"c":"EKG(2A)","n":771,"v":0},{"c":"EKG(2A)","n":773,"v":-28},{"c":"EKG(2A)","n":775.5,"v":28},{"c":"EKG(2A)","n":776.5,"v":4},{"c":"EKG(2A)","n":778,"v":8},{"c":"EKG(2A)","n":780,"v":5},{"c":"EKG(2A)","n":783,"v":7},{"c":"EKG(2A)","n":787,"v":5},{"c":"EKG(2A)","n":793,"v":6},{"c":"EKG(2A)","n":800,"v":2},{"c":"EKG(2A)","n":806,"v":-2},
{"c":"EKG(2A)","n":820,"v":-1},{"c":"EKG(2A)","n":826,"v":2},{"c":"EKG(2A)","n":830,"v":0},{"c":"EKG(2A)","n":832,"v":-28},{"c":"EKG(2A)","n":834.5,"v":28},{"c":"EKG(2A)","n":835.5,"v":4},{"c":"EKG(2A)","n":837,"v":8},{"c":"EKG(2A)","n":839,"v":5},{"c":"EKG(2A)","n":842,"v":7},{"c":"EKG(2A)","n":846,"v":5},{"c":"EKG(2A)","n":852,"v":6},{"c":"EKG(2A)","n":859,"v":2},{"c":"EKG(2A)","n":865,"v":-2},
{"c":"EKG(2A)","n":879,"v":-1},{"c":"EKG(2A)","n":885,"v":2},{"c":"EKG(2A)","n":889,"v":0},{"c":"EKG(2A)","n":891,"v":-28},{"c":"EKG(2A)","n":893.5,"v":28},{"c":"EKG(2A)","n":894.5,"v":4},{"c":"EKG(2A)","n":896,"v":8},{"c":"EKG(2A)","n":898,"v":5},{"c":"EKG(2A)","n":901,"v":7},{"c":"EKG(2A)","n":905,"v":5},{"c":"EKG(2A)","n":911,"v":6},{"c":"EKG(2A)","n":918,"v":2},{"c":"EKG(2A)","n":924,"v":-2},
{"c":"EKG(2A)","n":940,"v":-1},{"c":"EKG(2A)","n":946,"v":2},{"c":"EKG(2A)","n":950,"v":0},{"c":"EKG(2A)","n":952,"v":-28},{"c":"EKG(2A)","n":954.5,"v":28},{"c":"EKG(2A)","n":955.5,"v":4},{"c":"EKG(2A)","n":957,"v":8},{"c":"EKG(2A)","n":959,"v":5},{"c":"EKG(2A)","n":962,"v":7},{"c":"EKG(2A)","n":966,"v":5},{"c":"EKG(2A)","n":972,"v":6},{"c":"EKG(2A)","n":979,"v":2},{"c":"EKG(2A)","n":985,"v":-2},
{"c":"EKG(2A)","n":1003,"v":-1},{"c":"EKG(2A)","n":1009,"v":2},{"c":"EKG(2A)","n":1013,"v":0},{"c":"EKG(2A)","n":1015,"v":-28},{"c":"EKG(2A)","n":1017.5,"v":28},{"c":"EKG(2A)","n":1018.5,"v":4},{"c":"EKG(2A)","n":1020,"v":8},{"c":"EKG(2A)","n":1022,"v":5},{"c":"EKG(2A)","n":1025,"v":7},{"c":"EKG(2A)","n":1029,"v":5},{"c":"EKG(2A)","n":1035,"v":6},{"c":"EKG(2A)","n":1042,"v":2},{"c":"EKG(2A)","n":1048,"v":-2},
{"c":"EKG(2A)","n":1066,"v":-1},{"c":"EKG(2A)","n":1072,"v":2},{"c":"EKG(2A)","n":1076,"v":0},{"c":"EKG(2A)","n":1078,"v":-28},{"c":"EKG(2A)","n":1080.5,"v":28},{"c":"EKG(2A)","n":1081.5,"v":4},{"c":"EKG(2A)","n":1083,"v":8},{"c":"EKG(2A)","n":1085,"v":5},{"c":"EKG(2A)","n":1088,"v":7},{"c":"EKG(2A)","n":1092,"v":5},{"c":"EKG(2A)","n":1098,"v":6},{"c":"EKG(2A)","n":1105,"v":2},{"c":"EKG(2A)","n":1111,"v":-2},
{"c":"EKG(2A)","n":1128,"v":-1},{"c":"EKG(2A)","n":1134,"v":2},{"c":"EKG(2A)","n":1138,"v":0},{"c":"EKG(2A)","n":1140,"v":-28},{"c":"EKG(2A)","n":1142.5,"v":28},{"c":"EKG(2A)","n":1143.5,"v":4},{"c":"EKG(2A)","n":1145,"v":8},{"c":"EKG(2A)","n":1147,"v":5},{"c":"EKG(2A)","n":1150,"v":7},{"c":"EKG(2A)","n":1154,"v":5},{"c":"EKG(2A)","n":1160,"v":6},{"c":"EKG(2A)","n":1167,"v":2},{"c":"EKG(2A)","n":1173,"v":-2},
{"c":"EKG(2A)","n":1189,"v":-1},{"c":"EKG(2A)","n":1195,"v":2},{"c":"EKG(2A)","n":1199,"v":0},{"c":"EKG(2A)","n":1201,"v":-28},{"c":"EKG(2A)","n":1203.5,"v":28},{"c":"EKG(2A)","n":1204.5,"v":4},{"c":"EKG(2A)","n":1206,"v":8},{"c":"EKG(2A)","n":1208,"v":5},{"c":"EKG(2A)","n":1209,"v":6},
{"c":"EOG(3A)","n":0,"v":0},{"c":"EOG(3A)","n":30,"v":1},{"c":"EOG(3A)","n":60,"v":-1},{"c":"EOG(3A)","n":90,"v":0},{"c":"EOG(3A)","n":121,"v":0},{"c":"EOG(3A)","n":128,"v":-3},{"c":"EOG(3A)","n":136,"v":-10},{"c":"EOG(3A)","n":141,"v":-7},{"c":"EOG(3A)","n":148,"v":1},{"c":"EOG(3A)","n":155,"v":7},{"c":"EOG(3A)","n":161,"v":4},{"c":"EOG(3A)","n":175,"v":2},{"c":"EOG(3A)","n":185,"v":-8},{"c":"EOG(3A)","n":190,"v":-3},{"c":"EOG(3A)","n":195,"v":-6},{"c":"EOG(3A)","n":205,"v":2},{"c":"EOG(3A)","n":215,"v":6},{"c":"EOG(3A)","n":228,"v":7},{"c":"EOG(3A)","n":246,"v":6},{"c":"EOG(3A)","n":258,"v":2},{"c":"EOG(3A)","n":266,"v":-7},{"c":"EOG(3A)","n":273,"v":-12},{"c":"EOG(3A)","n":278,"v":-9},{"c":"EOG(3A)","n":285,"v":-3},{"c":"EOG(3A)","n":298,"v":-1},{"c":"EOG(3A)","n":328,"v":-1},{"c":"EOG(3A)","n":428,"v":0},{"c":"EOG(3A)","n":528,"v":0},{"c":"EOG(3A)","n":628,"v":0},{"c":"EOG(3A)","n":728,"v":0},{"c":"EOG(3A)","n":828,"v":0},{"c":"EOG(3A)","n":928,"v":0},{"c":"EOG(3A)","n":1028,"v":0},{"c":"EOG(3A)","n":1058,"v":2},{"c":"EOG(3A)","n":1078,"v":0},{"c":"EOG(3A)","n":1209,"v":0},
{"c":"EMG(4A)","n":0,"v":1},{"c":"EMG(4A)","n":2,"v":5},{"c":"EMG(4A)","n":3,"v":-3},{"c":"EMG(4A)","n":4,"v":4},{"c":"EMG(4A)","n":6,"v":-2},{"c":"EMG(4A)","n":8,"v":3},{"c":"EMG(4A)","n":10,"v":-1},{"c":"EMG(4A)","n":12,"v":2},{"c":"EMG(4A)","n":14,"v":0},{"c":"EMG(4A)","n":18,"v":1},
{"c":"EMG(4A)","n":57,"v":1},{"c":"EMG(4A)","n":60,"v":3},{"c":"EMG(4A)","n":64,"v":1},
{"c":"EMG(4A)","n":121,"v":1},{"c":"EMG(4A)","n":124,"v":3},{"c":"EMG(4A)","n":128,"v":1},{"c":"EMG(4A)","n":135,"v":2},{"c":"EMG(4A)","n":148,"v":1},{"c":"EMG(4A)","n":161,"v":-1},{"c":"EMG(4A)","n":176,"v":3},{"c":"EMG(4A)","n":185,"v":-4},{"c":"EMG(4A)","n":190,"v":5},{"c":"EMG(4A)","n":195,"v":3},{"c":"EMG(4A)","n":205,"v":-1},{"c":"EMG(4A)","n":215,"v":3},{"c":"EMG(4A)","n":228,"v":1},
{"c":"EMG(4A)","n":247,"v":1},{"c":"EMG(4A)","n":250,"v":3},{"c":"EMG(4A)","n":254,"v":1},{"c":"EMG(4A)","n":260,"v":0},{"c":"EMG(4A)","n":266,"v":2},{"c":"EMG(4A)","n":272,"v":-1},{"c":"EMG(4A)","n":280,"v":1},
{"c":"EMG(4A)","n":306,"v":1},{"c":"EMG(4A)","n":309,"v":3},{"c":"EMG(4A)","n":313,"v":1},
{"c":"EMG(4A)","n":365,"v":1},{"c":"EMG(4A)","n":368,"v":3},{"c":"EMG(4A)","n":372,"v":1},
{"c":"EMG(4A)","n":426,"v":1},{"c":"EMG(4A)","n":429,"v":3},{"c":"EMG(4A)","n":433,"v":1},
{"c":"EMG(4A)","n":483,"v":1},{"c":"EMG(4A)","n":486,"v":3},{"c":"EMG(4A)","n":490,"v":1},
{"c":"EMG(4A)","n":540,"v":1},{"c":"EMG(4A)","n":543,"v":3},{"c":"EMG(4A)","n":547,"v":1},
{"c":"EMG(4A)","n":599,"v":1},{"c":"EMG(4A)","n":602,"v":3},{"c":"EMG(4A)","n":606,"v":1},
{"c":"EMG(4A)","n":657,"v":1},{"c":"EMG(4A)","n":660,"v":3},{"c":"EMG(4A)","n":664,"v":1},
{"c":"EMG(4A)","n":715,"v":1},{"c":"EMG(4A)","n":718,"v":3},{"c":"EMG(4A)","n":722,"v":1},
{"c":"EMG(4A)","n":773,"v":1},{"c":"EMG(4A)","n":776,"v":3},{"c":"EMG(4A)","n":780,"v":1},
{"c":"EMG(4A)","n":832,"v":1},{"c":"EMG(4A)","n":835,"v":3},{"c":"EMG(4A)","n":839,"v":1},
{"c":"EMG(4A)","n":891,"v":1},{"c":"EMG(4A)","n":894,"v":3},{"c":"EMG(4A)","n":898,"v":1},
{"c":"EMG(4A)","n":952,"v":1},{"c":"EMG(4A)","n":955,"v":3},{"c":"EMG(4A)","n":959,"v":1},
{"c":"EMG(4A)","n":1015,"v":1},{"c":"EMG(4A)","n":1018,"v":3},{"c":"EMG(4A)","n":1022,"v":1},
{"c":"EMG(4A)","n":1078,"v":1},{"c":"EMG(4A)","n":1081,"v":3},{"c":"EMG(4A)","n":1085,"v":1},
{"c":"EMG(4A)","n":1140,"v":1},{"c":"EMG(4A)","n":1143,"v":3},{"c":"EMG(4A)","n":1147,"v":1},
{"c":"EMG(4A)","n":1201,"v":1},{"c":"EMG(4A)","n":1204,"v":3},{"c":"EMG(4A)","n":1208,"v":1},{"c":"EMG(4A)","n":1209,"v":1}
]
},
"layer":[
{"data":{"values":[{}]},"mark":{"type":"rect","color":"#fffbc9","clip":true},
 "encoding":{"x":{"datum":0,"type":"quantitative","scale":{"domain":[-72,1209],"nice":false,"zero":false},"axis":null},"x2":{"datum":1209},
 "y":{"datum":0,"type":"quantitative","scale":{"domain":[-0.425,25.78],"reverse":true,"nice":false,"zero":false},"axis":null},"y2":{"datum":25.78}}},
{"data":{"values":[{}]},"mark":{"type":"rect","color":"#efefef","clip":true},
 "encoding":{"x":{"datum":-62.5,"type":"quantitative","axis":null},"x2":{"datum":-56},"y":{"datum":0,"type":"quantitative","axis":null},"y2":{"datum":25.78}}},
{"data":{"values":[{}]},"mark":{"type":"rule","color":"#c4c4c4","strokeWidth":1.5,"clip":true},
 "encoding":{"x":{"datum":-61.5,"type":"quantitative","axis":null},"y":{"datum":0,"type":"quantitative","axis":null},"y2":{"datum":25.78}}},
{"data":{"values":[{}]},"mark":{"type":"rule","color":"#a6a6a6","strokeWidth":1.5,"clip":true},
 "encoding":{"x":{"datum":-57.3,"type":"quantitative","axis":null},"y":{"datum":0,"type":"quantitative","axis":null},"y2":{"datum":25.78}}},
{"data":{"name":"rows"},"transform":[{"calculate":"min(datum.slot+1,25.9)","as":"s1"}],
 "mark":{"type":"rect","clip":true,"stroke":"#f8f1de","strokeWidth":1.4,"fill":{"gradient":"linear","x1":0,"y1":0,"x2":1,"y2":0,"stops":[{"offset":0,"color":"#e7d6a8"},{"offset":0.84,"color":"#e3d09e"},{"offset":1,"color":"#b38c4a"}]}},
 "encoding":{"x":{"datum":-56,"type":"quantitative","axis":null},"x2":{"datum":0},"y":{"field":"slot","type":"quantitative","axis":null},"y2":{"field":"s1"}}},
{"data":{"name":"grid"},"transform":[{"filter":"datum.k == 'm'"}],
 "mark":{"type":"rule","color":"#f7cf86","strokeWidth":1,"strokeDash":[4,3],"clip":true},
 "encoding":{"x":{"field":"t","type":"quantitative","axis":null},"y":{"datum":0,"type":"quantitative","axis":null},"y2":{"datum":25.78}}},
{"data":{"name":"grid"},"transform":[{"filter":"datum.k == 'M'"}],
 "mark":{"type":"rule","color":"#f6c168","strokeWidth":1.6,"clip":true},
 "encoding":{"x":{"field":"t","type":"quantitative","axis":null},"y":{"datum":0,"type":"quantitative","axis":null},"y2":{"datum":25.78}}},
{"data":{"name":"rows"},"transform":[{"filter":"datum.lab != ''"},{"calculate":"datum.slot+0.5","as":"yc"}],
 "mark":{"type":"text","font":"Liberation Sans","fontSize":12.5,"color":"#1e1e1e","align":"center","baseline":"middle"},
 "encoding":{"x":{"datum":-28,"type":"quantitative","axis":null},"y":{"field":"yc","type":"quantitative","axis":null},"text":{"field":"lab"}}},
{"data":{"values":[{}]},"mark":{"type":"rect","color":"#ffffff","opacity":0.85},
 "encoding":{"x":{"datum":122.5,"type":"quantitative","axis":null},"x2":{"datum":174},"y":{"datum":24.77,"type":"quantitative","axis":null},"y2":{"datum":25.18}}},
{"data":{"values":[{}]},"mark":{"type":"text","font":"Liberation Sans","fontSize":9,"color":"#222222","align":"left","baseline":"middle","text":"10:06:48 AM"},
 "encoding":{"x":{"datum":123.5,"type":"quantitative","axis":null},"y":{"datum":24.97,"type":"quantitative","axis":null}}},
{"data":{"values":[{}]},"mark":{"type":"text","font":"Liberation Sans","fontSize":9,"color":"#222222","align":"left","baseline":"middle","text":"Page# 83"},
 "encoding":{"x":{"datum":123.5,"type":"quantitative","axis":null},"y":{"datum":25.40,"type":"quantitative","axis":null}}},
{"data":{"values":[{}]},"mark":{"type":"text","font":"Liberation Sans","fontSize":9,"color":"#222222","align":"left","baseline":"middle","text":"00:13:40","clip":true},
 "encoding":{"x":{"datum":123.5,"type":"quantitative","axis":null},"y":{"datum":25.83,"type":"quantitative","axis":null}}},
{"data":{"name":"pts"},"transform":[{"filter":"datum.c != 'EOG(3A)'"},{"lookup":"c","from":{"data":{"name":"rows"},"key":"lab","fields":["slot"]}},{"calculate":"datum.slot+0.5-datum.v/28.24","as":"y"}],
 "mark":{"type":"line","strokeWidth":1.2,"clip":true},
 "encoding":{"x":{"field":"n","type":"quantitative","axis":null},"y":{"field":"y","type":"quantitative","axis":null},
  "color":{"field":"c","type":"nominal","legend":null,"scale":{"domain":["FP1-FP2","A1-T3","T3-C3","C3-CZ","CZ-C4","C4-T4","T4-A2","FP1-T3","T3-O1","FP2-T4","T4-O2","O1-O2","EKG(2A)","EMG(4A)"],"range":["#338833","#2b2bee","#2b2bee","#2b2bee","#f02b2b","#f02b2b","#f02b2b","#2b2bee","#2b2bee","#f02b2b","#f02b2b","#338833","#f02b2b","#f02b2b"]}},
  "order":{"field":"n","type":"quantitative"}}},
{"data":{"name":"pts"},"transform":[{"filter":"datum.c == 'EOG(3A)'"},{"lookup":"c","from":{"data":{"name":"rows"},"key":"lab","fields":["slot"]}},{"calculate":"datum.slot+0.5-datum.v/28.24","as":"y"}],
 "mark":{"type":"line","strokeWidth":1.7,"clip":true,"color":"#3030ee"},
 "encoding":{"x":{"field":"n","type":"quantitative","axis":null},"y":{"field":"y","type":"quantitative","axis":null},"order":{"field":"n","type":"quantitative"}}}
]
}
